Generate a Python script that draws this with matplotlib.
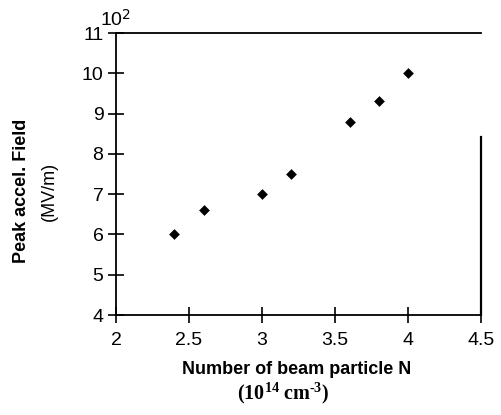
import matplotlib
matplotlib.use("Agg")
import matplotlib.pyplot as plt

plt.rcParams['font.family'] = ['Liberation Sans', 'DejaVu Sans']
plt.rcParams['mathtext.fontset'] = 'custom'
plt.rcParams['mathtext.rm'] = 'Liberation Serif'
plt.rcParams['mathtext.bf'] = 'Liberation Serif:bold'
plt.rcParams['mathtext.it'] = 'Liberation Serif:italic'

N = [2.4, 2.6, 3.0, 3.2, 3.6, 3.8, 4.0]
field = [6.0, 6.6, 7.0, 7.5, 8.8, 9.3, 10.0]
xticks = [2, 2.5, 3, 3.5, 4, 4.5]
xticklabels = ['2', '2.5', '3', '3.5', '4', '4.5']
yticks = [4, 5, 6, 7, 8, 9, 10, 11]

W, H = 502, 415
fig = plt.figure(figsize=(W/100, H/100), dpi=100)
ax = fig.add_axes([116/W, 1-315/H, (481-116)/W, (315-33)/H])

ax.scatter(N, field, marker='D', s=30, color='black', linewidths=0, zorder=3)
ax.set_xlim(2, 4.5)
ax.set_ylim(4, 11)
ax.set_xticks(xticks)
ax.set_xticklabels(xticklabels)
ax.set_yticks(yticks)
ax.tick_params(direction='inout', length=12, width=1.2, labelsize=14, color='black')
ax.tick_params(axis='x', pad=6)
ax.tick_params(axis='y', pad=3)
for s in ['left', 'bottom', 'top']:
    ax.spines[s].set_linewidth(1.3)
ax.spines['right'].set_linewidth(1.6)
ax.spines['right'].set_bounds(4, 8.42)

def fx(px):
    return px / W

def fy(py):
    return 1 - py / H

fig.text(fx(116), fy(20), '10$^{\\mathsf{2}}$', fontsize=14, ha='center', va='center')
fig.text(fx(22), fy(191), 'Peak accel. Field', fontsize=13, fontweight='bold',
         rotation=90, ha='center', va='center')
fig.text(fx(49), fy(191), '(MV/m)', fontsize=13, rotation=90, ha='center', va='center')
fig.text(fx(297), fy(369), 'Number of beam particle N', fontsize=13, fontweight='bold',
         ha='center', va='center')
fig.text(fx(283), fy(393), r'$\mathbf{(10^{14}\ cm^{\text{-}3})}$', fontsize=14.5,
         ha='center', va='center')

fig.savefig('out.png', dpi=100)
